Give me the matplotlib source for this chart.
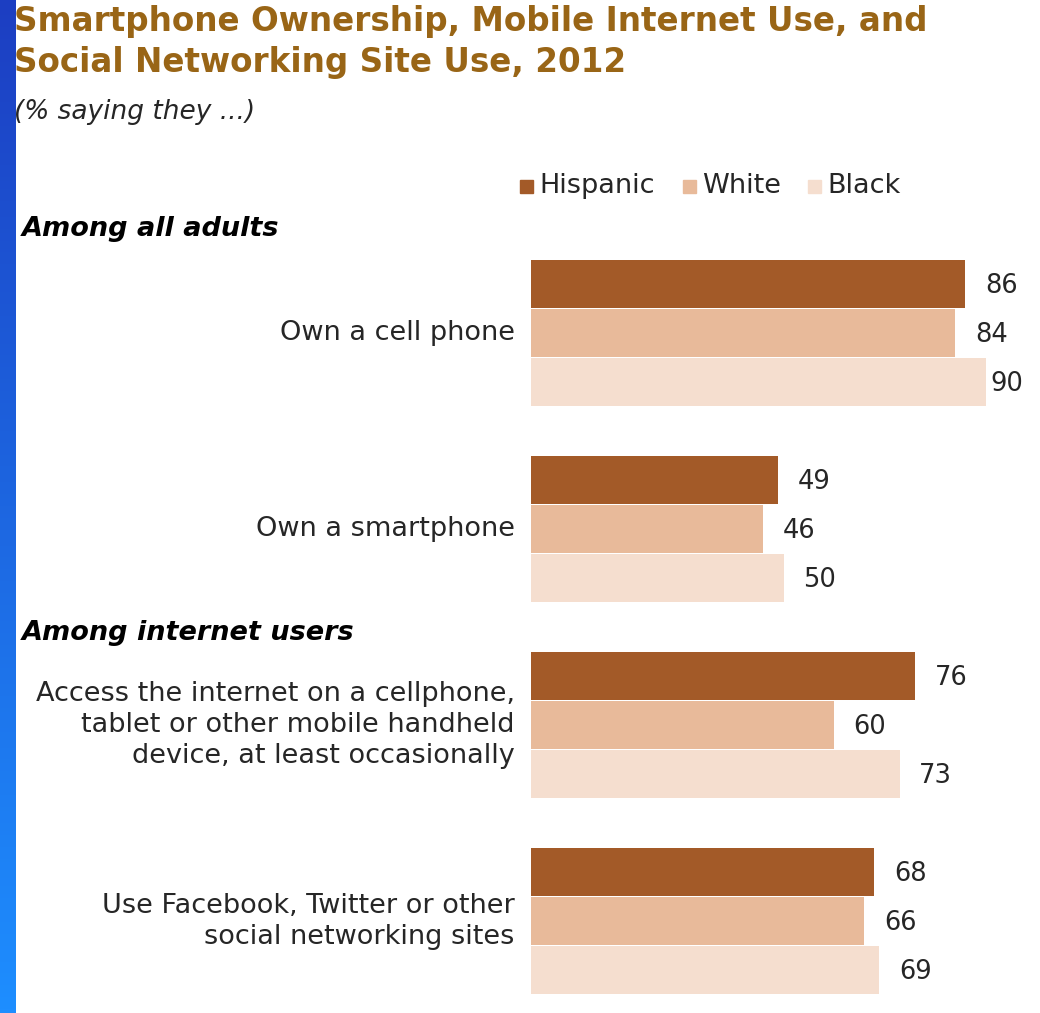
import numpy as np
import matplotlib.pyplot as plt
from matplotlib.colors import LinearSegmentedColormap
from matplotlib.patches import Rectangle

# data
categories = [
    "Own a cell phone",
    "Own a smartphone",
    "Access the internet on a cellphone,\ntablet or other mobile handheld\ndevice, at least occasionally",
    "Use Facebook, Twitter or other\nsocial networking sites",
]
groups = ["Hispanic", "White", "Black"]
hispanic = [86, 49, 76, 68]
white = [84, 46, 60, 66]
black = [90, 50, 73, 69]
sections = ["Among all adults", "Among internet users"]

colors = ["#A35A28", "#E8BA9A", "#F5DECF"]
text_col = "#262626"

W, H = 1040, 1013
fig = plt.figure(figsize=(W / 100, H / 100), dpi=100)
fig.patch.set_facecolor("white")

# blue strip on the left edge
strip = fig.add_axes([0, 0, 16 / W, 1])
grad = np.linspace(0, 1, 256).reshape(-1, 1)
cmap = LinearSegmentedColormap.from_list("strip", ["#1C3EC2", "#1E8EFF"])
strip.imshow(grad, aspect="auto", cmap=cmap, extent=[0, 1, 0, 1], origin="upper")
strip.axis("off")

# main axes: units of one bar height (49 px), group centres 4 apart
top_px, bot_px = 250, 1005
ax = fig.add_axes([531 / W, 1 - bot_px / H, (1036 - 531) / W, (bot_px - top_px) / H])
ax.set_ylim((bot_px - 333) / 49, (top_px - 333) / 49)
ax.set_xlim(0, 100)
ax.axis("off")

centers = np.arange(len(categories)) * 4.0
series = [hispanic, white, black]
for k, (vals, c) in enumerate(zip(series, colors)):
    ys = centers + (k - 1) * 1.0
    ax.barh(ys, vals, height=0.98, color=c, edgecolor="none")
    for y, v in zip(ys, vals):
        ax.text(min(v + 3.9, 90.9), y + 0.05, str(v), ha="left", va="center",
                fontsize=18.5, color=text_col)

for y, lab in zip(centers, categories):
    ax.text(-3.2, y, lab, ha="right", va="center", fontsize=19.5,
            color=text_col, linespacing=1.25, clip_on=False)

# titles
fig.text(14 / W, 1 - 5 / H,
         "Smartphone Ownership, Mobile Internet Use, and\nSocial Networking Site Use, 2012",
         ha="left", va="top", fontsize=23.5, fontweight="bold", color="#996516",
         linespacing=1.3)
fig.text(14 / W, 1 - 112 / H, "(% saying they ...)", ha="left", va="center",
         fontsize=19, style="italic", color=text_col)

fig.text(22 / W, 1 - 229 / H, sections[0], ha="left", va="center",
         fontsize=19.5, fontweight="bold", style="italic", color="black")
fig.text(22 / W, 1 - 633 / H, sections[1], ha="left", va="center",
         fontsize=19.5, fontweight="bold", style="italic", color="black")

# legend
leg_x = [520, 683, 808]
for x, c, g in zip(leg_x, colors, groups):
    fig.add_artist(Rectangle((x / W, 1 - 193 / H), 13 / W, 13 / H,
                             transform=fig.transFigure, color=c))
    fig.text((x + 19) / W, 1 - 186 / H, g, ha="left", va="center",
             fontsize=19.5, color=text_col)

fig.savefig("out.png", dpi=100, facecolor="white")
